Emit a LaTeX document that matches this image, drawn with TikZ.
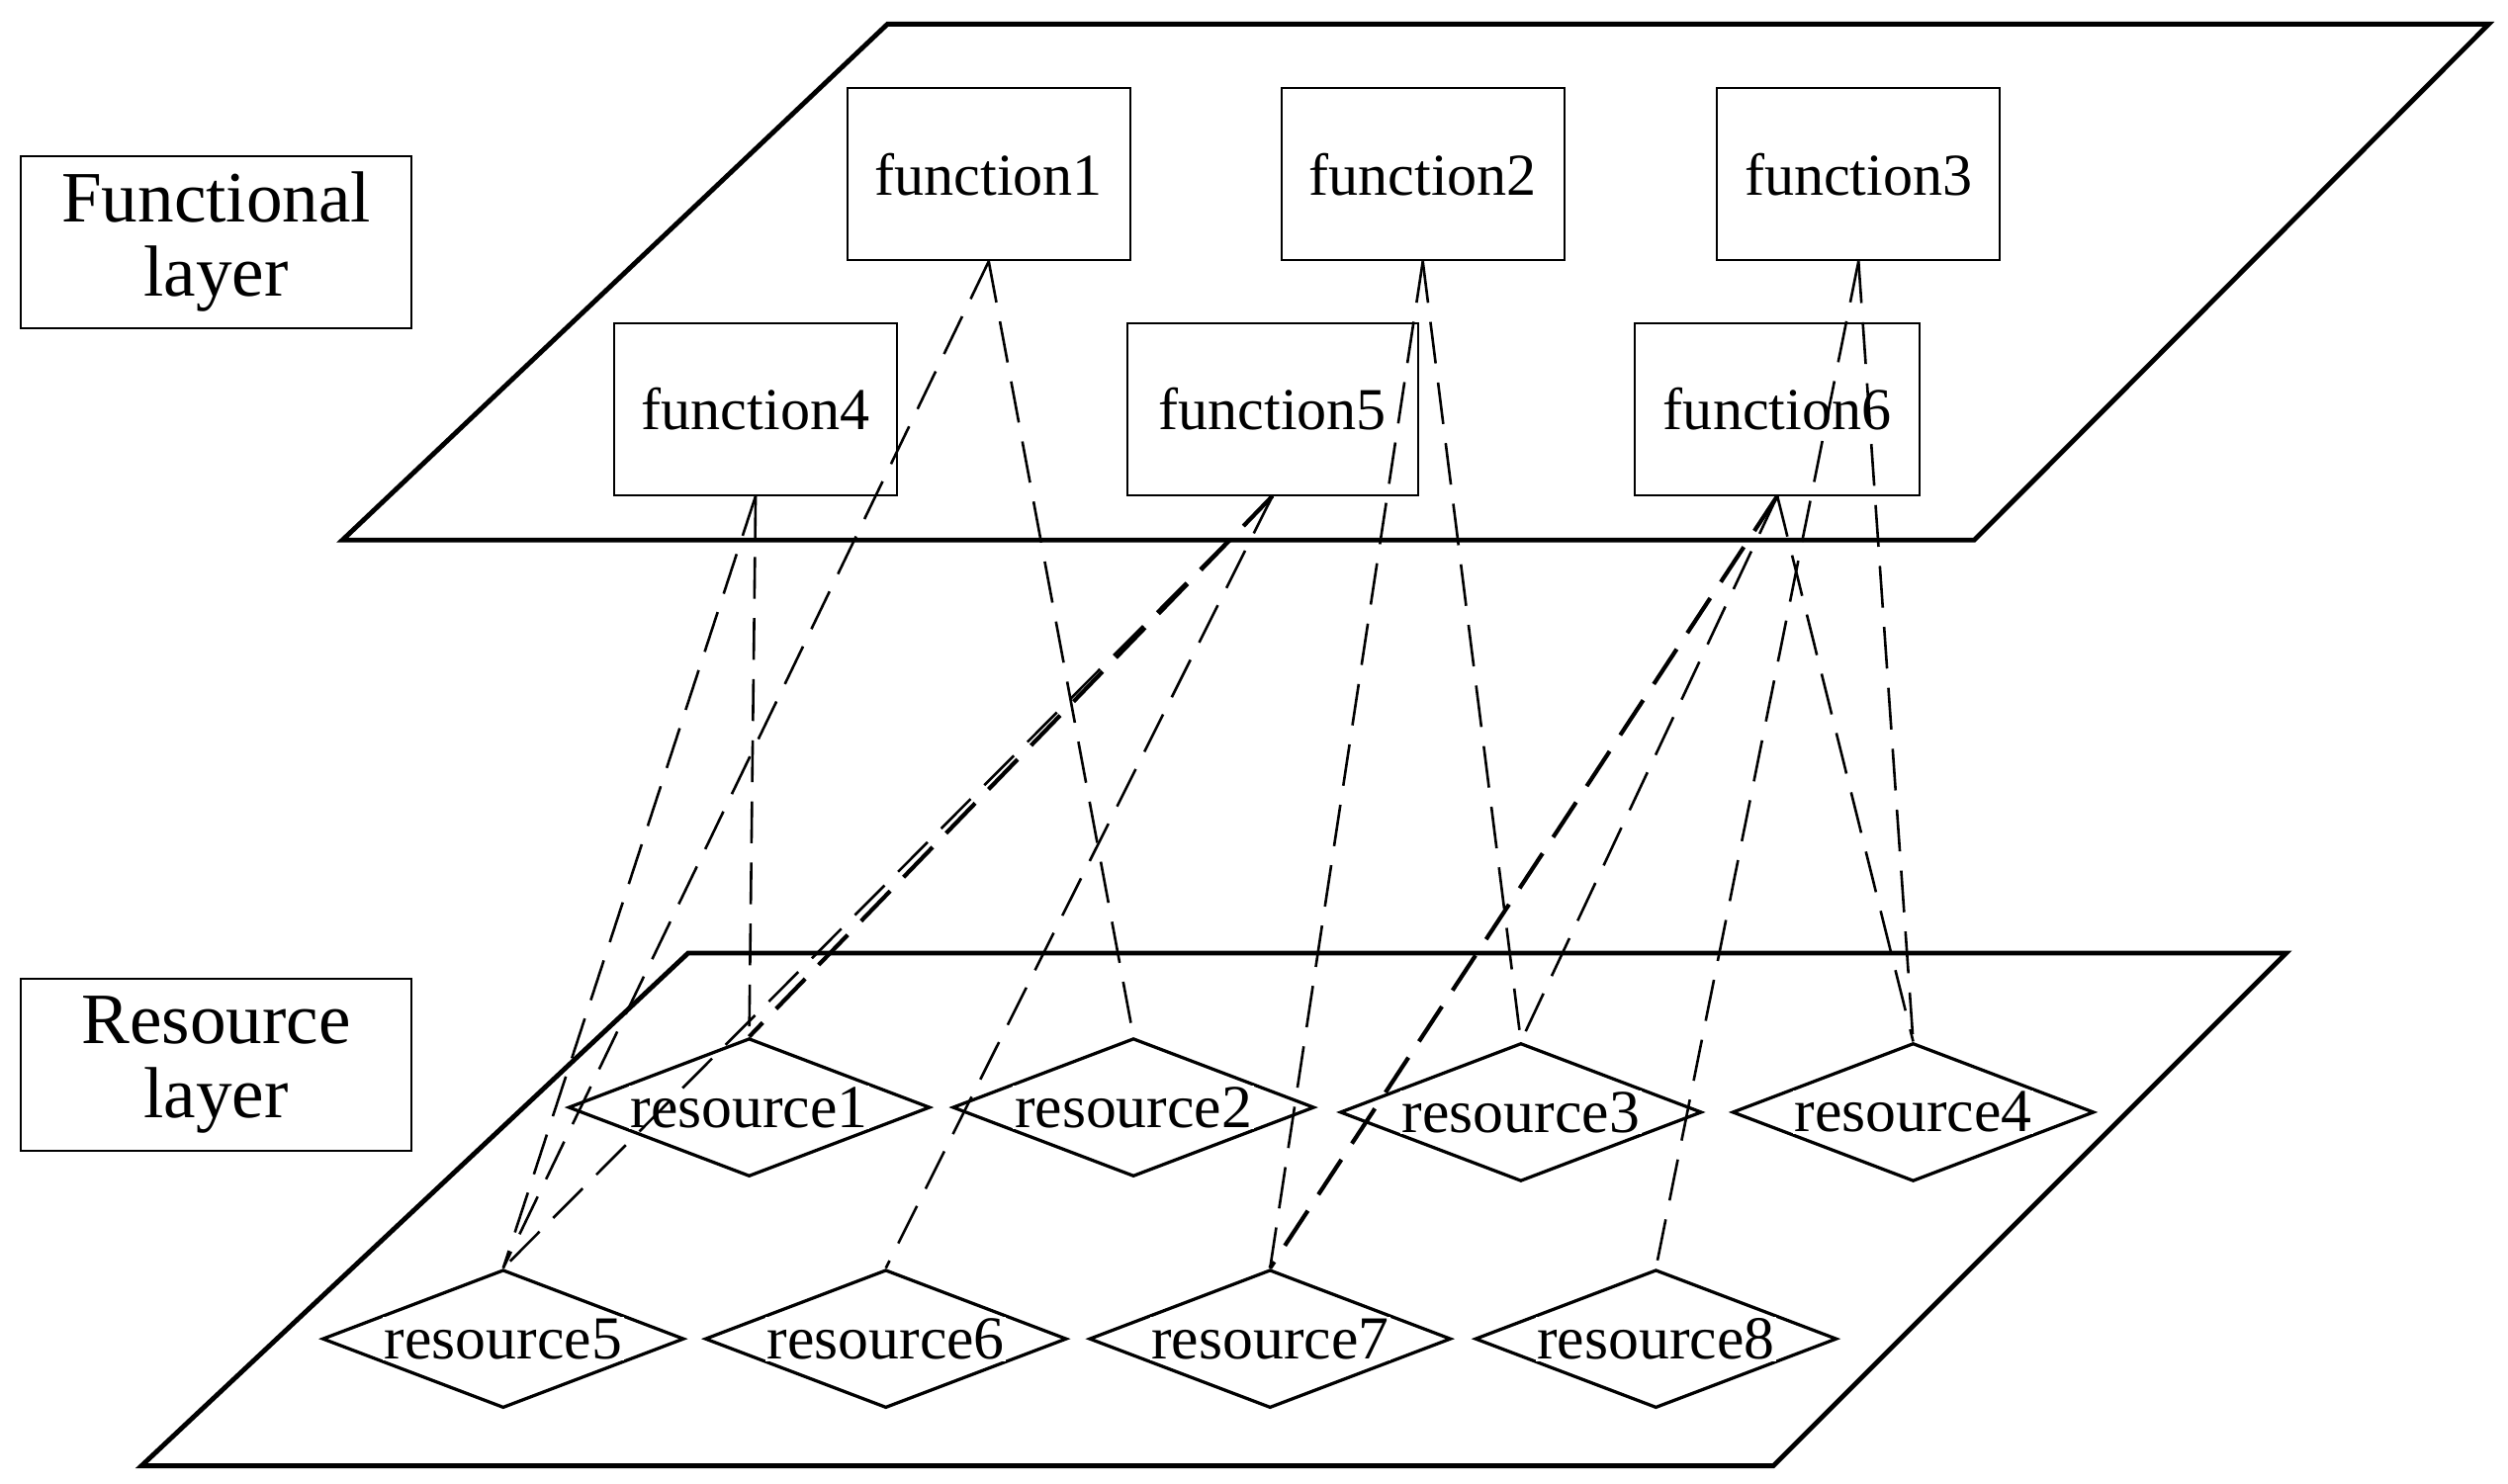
\documentclass[tikz,border=0pt]{standalone}
\usepackage{fontspec}
\setmainfont{Liberation Serif}
\usetikzlibrary{shapes.geometric}
\begin{document}
\begin{tikzpicture}[x=1pt,y=-1pt,
  plane/.style={line width=3pt,line join=miter},
  lab/.style={draw,line width=1.2pt,minimum width=243pt,minimum height=107pt,align=center,font=\fontsize{45}{50}\selectfont},
  fbox/.style={draw,line width=1.2pt,minimum width=176pt,minimum height=107pt,font=\fontsize{37}{40}\selectfont,inner sep=0pt},
  res/.style={draw,diamond,aspect=2.6,line width=2pt,minimum width=225pt,minimum height=86pt,inner sep=0pt},
  rtxt/.style={fill=white,font=\fontsize{38}{40}\selectfont,inner sep=1pt},
  link/.style={line width=1.6pt,dash pattern=on 26pt off 12pt},
  tlink/.style={line width=2.6pt,dash pattern=on 26pt off 12pt}]
\useasboundingbox (0,0) rectangle (1560,923);
\draw[plane] (213,336) -- (1228,336) -- (1548,15) -- (552,15) -- cycle;
\draw[plane] (88,912) -- (1103,912) -- (1422,593) -- (428,593) -- cycle;
\node[lab] (fl) at (134.5,150.5) {Functional\\[-4pt]layer};
\node[lab] (rl) at (134.5,662.5) {Resource\\[-4pt]layer};
\node[fbox] (f1) at (615,108.5) {function1};
\node[fbox] (f2) at (885,108.5) {function2};
\node[fbox] (f3) at (1156,108.5) {function3};
\node[fbox] (f4) at (470,254.5) {function4};
\node[fbox,minimum width=181pt] (f5) at (791.5,254.5) {function5};
\node[fbox,minimum width=177pt] (f6) at (1105.5,254.5) {function6};
\foreach \n/\x/\y in {1/466/689,2/705/689,3/946/692,4/1190/692,5/313/833,6/551/833,7/790/833,8/1030/833}{
  \node[res] (r\n) at (\x,\y) {};
  \node[rtxt] (t\n) at (\x,\y) {resource\n};
}
\draw[link] (f4.south) -- (r1.north);
\draw[link] (f4.south) -- (r5.north);
\draw[link] (f1.south) -- (r5.north);
\draw[link] (f1.south) -- (r2.north);
\draw[tlink] (f5.south) -- (r1.north);
\draw[link] (f5.south) -- (r5.north);
\draw[link] (f5.south) -- (r6.north);
\draw[link] (f2.south) -- (r3.north);
\draw[link] (f2.south) -- (r7.north);
\draw[link] (f3.south) -- (r4.north);
\draw[link] (f3.south) -- (r8.north);
\draw[tlink] (f6.south) -- (r7.north);
\draw[link] (f6.south) -- (r3.north);
\draw[link] (f6.south) -- (r4.north);
\end{tikzpicture}
\end{document}
